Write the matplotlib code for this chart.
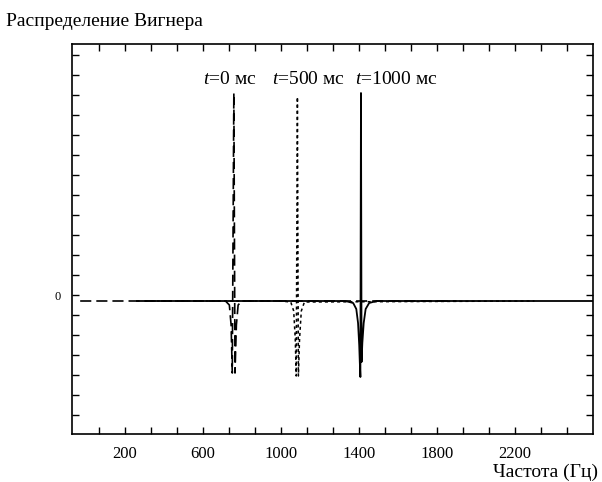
import numpy as np
import matplotlib
matplotlib.use("Agg")
import matplotlib.pyplot as plt

# ---- data (frequency in Hz, amplitude in tick units) ----
# t = 0 ms, long dashes
f_t0 = [-30, 600, 715, 735, 744, 750, 758, 764, 771, 780, 800, 1900]
w_t0 = [-0.3, -0.3, -0.3, -0.5, -1.5, -3.9, 10.1, -3.9, -1.5, -0.5, -0.3, -0.3]

# t = 500 ms, short dashes
f_t500 = [300, 1000, 1050, 1065, 1073, 1078, 1084, 1089, 1095, 1104, 1120, 2300]
w_t500 = [-0.3, -0.3, -0.35, -0.8, -2.2, -4.05, 9.9, -4.05, -2.2, -0.8, -0.35, -0.3]

# t = 1000 ms, solid
f_t1000 = [261, 1330, 1370, 1386, 1395, 1401, 1404, 1407, 1410, 1413, 1417, 1424, 1434, 1452, 1490, 2600]
w_t1000 = [-0.3, -0.3, -0.4, -0.7, -1.4, -2.5, -3.35, -4.1, 10.1, -3.35, -2.4, -1.4, -0.7, -0.4, -0.3, -0.3]

curve_labels = ["=0 мс", "=500 мс", "=1000 мс"]
label_f = [600, 954, 1379]

xtick_labels = ["200", "600", "1000", "1400", "1800", "2200"]
title_text = "Распределение Вигнера"
xlabel_text = "Частота (Гц)"

plt.rcParams["font.family"] = ["Liberation Serif", "DejaVu Serif"]
plt.rcParams["mathtext.fontset"] = "custom"
plt.rcParams["mathtext.it"] = "Liberation Serif:italic"
plt.rcParams["mathtext.rm"] = "Liberation Serif"
plt.rcParams["lines.scale_dashes"] = False

fig = plt.figure(figsize=(6.02, 4.82), dpi=100)
ax = fig.add_axes([72 / 602, 48 / 482, 521 / 602, 390 / 482])

ax.plot(f_t0, w_t0, color="black", lw=1.2, linestyle=(0, (8, 3.6)))
ax.plot(f_t500, w_t500, color="black", lw=1.1, linestyle=(0, (2.2, 2.2)))
ax.plot(f_t1000, w_t1000, color="black", lw=1.3)

for lab, f in zip(curve_labels, label_f):
    ax.text(f, 10.55, "$t$" + lab, fontsize=14, ha="left", va="baseline")

ax.set_xlim(-72, 2600)
ax.set_ylim(-6.95, 12.55)

# ticks every 400/3 Hz, labels on every third one
step = 400 / 3
xt = np.arange(200 - step, 2600, step)
ax.set_xticks(xt)
labels = []
k = 0
for i in range(len(xt)):
    if i % 3 == 1 and k < len(xtick_labels):
        labels.append(xtick_labels[k])
        k += 1
    else:
        labels.append("")
ax.set_xticklabels(labels, fontsize=12)

ax.set_yticks(np.arange(-6, 13, 1))
ax.set_yticklabels(["0" if v == 0 else "" for v in np.arange(-6, 13, 1)], fontsize=9)

ax.tick_params(direction="in", length=5, width=1, top=True, right=True, colors="black")
ax.tick_params(axis="x", pad=9)
ax.tick_params(axis="y", pad=8)
for s in ax.spines.values():
    s.set_linewidth(1.2)

fig.text(6 / 602, 1 - 21 / 482, title_text, fontsize=14, ha="left", va="center")
fig.text(598 / 602, 1 - 472 / 482, xlabel_text, fontsize=14, ha="right", va="center")

fig.savefig("out.png", dpi=100)
